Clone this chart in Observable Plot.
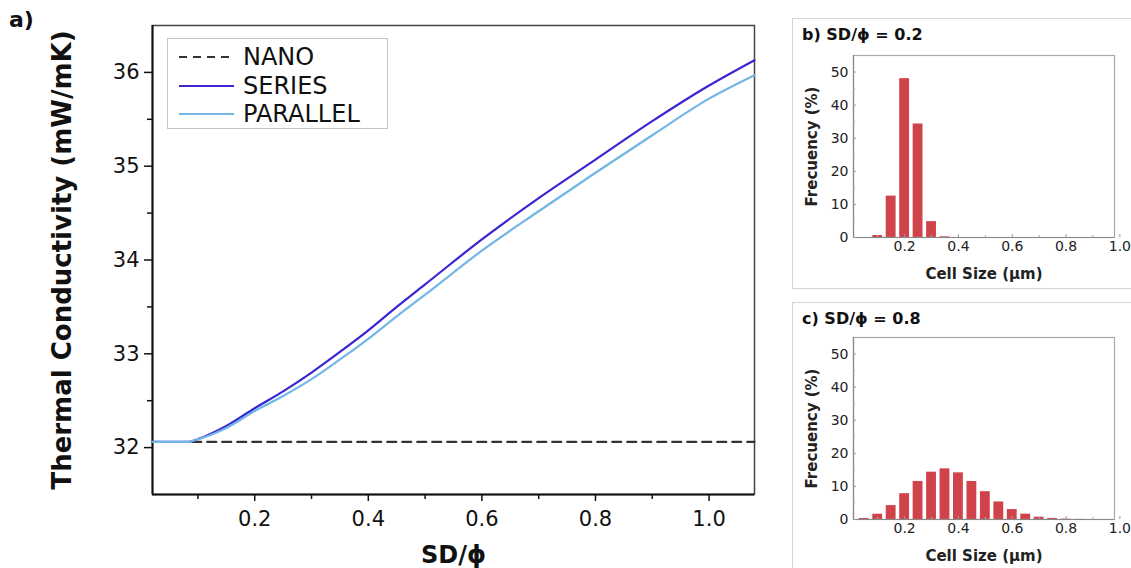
<!DOCTYPE html>
<html><head><meta charset="utf-8">
<script src="https://cdn.jsdelivr.net/npm/d3@7"></script>
<script src="https://cdn.jsdelivr.net/npm/@observablehq/plot@0.6"></script>
<style>
body{margin:0;background:#fff;font-family:"DejaVu Sans",Arial,sans-serif;color:#111;}
#root{position:relative;width:1131px;height:568px;overflow:hidden;background:#fff;}
.abs{position:absolute;}
.box{position:absolute;border:1.5px solid #d4d4d4;box-sizing:border-box;}
.ttl{position:absolute;font-weight:bold;font-size:16px;white-space:nowrap;}
.leg{position:absolute;left:167px;top:38px;width:221px;height:91px;border:1px solid #c4c4c4;box-sizing:border-box;background:#fff;}
.legrow{position:absolute;left:11px;height:28px;display:flex;align-items:center;font-size:24px;white-space:nowrap;}
.legrow svg{margin-right:9px;}
</style></head><body><div id="root"></div>
<script>
// ---- Data ----
const sdRatio   = [0.02, 0.05, 0.08, 0.09, 0.10, 0.12, 0.15, 0.20, 0.25, 0.30, 0.35, 0.40, 0.45, 0.50, 0.60, 0.70, 0.80, 0.90, 1.00, 1.08];
const seriesK   = [32.06,32.06,32.06,32.07,32.09,32.14,32.23,32.42,32.60,32.80,33.02,33.25,33.50,33.74,34.22,34.66,35.07,35.48,35.86,36.13];
const parallelK = [32.06,32.06,32.06,32.07,32.09,32.13,32.21,32.39,32.55,32.73,32.94,33.16,33.40,33.63,34.10,34.52,34.93,35.33,35.72,35.97];
const nanoK = 32.06;
const legendLabels = ["NANO", "SERIES", "PARALLEL"];
const mainXTicks = [0.2, 0.4, 0.6, 0.8, 1.0];
const mainXMinor = [0.1, 0.3, 0.5, 0.7, 0.9];
const mainYTicks = [32, 33, 34, 35, 36];
const mainYMinor = [32.5, 33.5, 34.5, 35.5];
const mainXDomain = [0.02, 1.08];
const mainYDomain = [31.5, 36.5];

const binWidth = 0.05;
const cellSizeB = [0.10, 0.15, 0.20, 0.25, 0.30, 0.35];
const freqB     = [0.6, 12.5, 48.0, 34.3, 4.8, 0.2];
const cellSizeC = [0.05, 0.10, 0.15, 0.20, 0.25, 0.30, 0.35, 0.40, 0.45, 0.50, 0.55, 0.60, 0.65, 0.70, 0.75, 0.80, 0.85];
const freqC     = [0.3, 1.6, 4.2, 7.8, 11.5, 14.3, 15.3, 14.1, 11.5, 8.4, 5.3, 3.0, 1.6, 0.7, 0.3, 0.1, 0.05];
const histXTicks = [0.2, 0.4, 0.6, 0.8, 1.0];
const histXMinor = [0.1, 0.3, 0.5, 0.7, 0.9];
const histYTicks = [0, 10, 20, 30, 40, 50];
const histYMinor = [5, 15, 25, 35, 45];
const histXDomain = [0.01, 0.98];
const histYDomain = [0, 55];

// ---- Styles ----
const FONT = "DejaVu Sans, Arial, sans-serif";
const colSeries = "#3a25d2", colParallel = "#72b6e6", colNano = "#333333", colBar = "#d0434b";

const root = document.getElementById("root");

// ---- Main chart ----
const main = Plot.plot({
  width: 780, height: 568,
  marginLeft: 152, marginRight: 26, marginTop: 25, marginBottom: 74,
  style: {background: "transparent", overflow: "visible", fontFamily: FONT, color: "#111"},
  x: {domain: mainXDomain},
  y: {domain: mainYDomain},
  marks: [
    Plot.frame({stroke: "#444", strokeWidth: 1.5}),
    Plot.ruleX([mainXDomain[0]], {stroke: "#111", strokeWidth: 2}),
    Plot.ruleY([mainYDomain[0]], {stroke: "#111", strokeWidth: 2}),
    Plot.line([sdRatio[3], sdRatio[sdRatio.length - 1]], {x: d => d, y: () => nanoK, stroke: colNano, strokeWidth: 2.2, strokeDasharray: "9,6"}),
    Plot.line(sdRatio, {x: d => d, y: (d, i) => seriesK[i], stroke: colSeries, strokeWidth: 2.2, curve: "monotone-x"}),
    Plot.line(sdRatio, {x: d => d, y: (d, i) => parallelK[i], stroke: colParallel, strokeWidth: 2.2, curve: "monotone-x"}),
    Plot.axisY(mainYTicks, {tickSize: 8, tickPadding: 5, fontSize: 21, tickFormat: d => String(d), label: null, stroke: "#111", strokeWidth: 1.5}),
    Plot.axisY(mainYMinor, {tickSize: 5, tickFormat: () => "", label: null, stroke: "#111", strokeWidth: 1.5}),
    Plot.axisX(mainXTicks, {tickSize: 7, tickPadding: 10, fontSize: 21, tickFormat: d => d.toFixed(1), label: null, stroke: "#111", strokeWidth: 1.5}),
    Plot.axisX(mainXMinor, {tickSize: 5, tickFormat: () => "", label: null, stroke: "#111", strokeWidth: 1.5}),
    Plot.text(["Thermal Conductivity (mW/mK)"], {frameAnchor: "left", rotate: -90, dx: -90, fontSize: 26, fontWeight: "bold", textAnchor: "middle", lineAnchor: "middle", fill: "#111"}),
    Plot.text(["SD/ϕ"], {frameAnchor: "bottom", dy: 68, fontSize: 24, fontWeight: "bold", textAnchor: "middle", lineAnchor: "bottom", fill: "#111"})
  ]
});
main.classList.add("abs");
main.style.left = "0px"; main.style.top = "0px";
root.appendChild(main);

// panel letter a)
const la = document.createElement("div");
la.className = "ttl"; la.style.left = "9px"; la.style.top = "7px"; la.style.fontSize = "22px";
la.textContent = "a)";
root.appendChild(la);

// legend
const leg = document.createElement("div");
leg.className = "leg";
const legStyles = [
  {stroke: colNano, dash: "8,6"},
  {stroke: colSeries, dash: null},
  {stroke: colParallel, dash: null}
];
legendLabels.forEach((lab, i) => {
  const row = document.createElement("div");
  row.className = "legrow";
  row.style.top = (4 + i * 28.5) + "px";
  const s = legStyles[i];
  row.innerHTML = `<svg width="55" height="6"><line x1="0" y1="3" x2="55" y2="3" stroke="${s.stroke}" stroke-width="2.2" ${s.dash ? `stroke-dasharray="${s.dash}"` : ""}/></svg><span>${lab}</span>`;
  leg.appendChild(row);
});
root.appendChild(leg);

// ---- Histograms ----
function hist(cells, freq, mTop, h) {
  return Plot.plot({
    width: 339, height: h,
    marginLeft: 61, marginRight: 17, marginTop: mTop, marginBottom: h - mTop - 182,
    style: {background: "transparent", overflow: "visible", fontFamily: FONT, color: "#222"},
    x: {domain: histXDomain},
    y: {domain: histYDomain},
    marks: [
      Plot.rect(cells, {x1: d => d - binWidth / 2, x2: d => d + binWidth / 2, y1: 0, y2: (d, i) => freq[i], fill: colBar, insetLeft: 1.8, insetRight: 1.8}),
      Plot.frame({stroke: "#a8a8a8", strokeWidth: 1.2}),
      Plot.ruleY([histYDomain[0]], {stroke: "#888", strokeWidth: 1.2}),
      Plot.ruleX([histXDomain[0]], {stroke: "#888", strokeWidth: 1.2}),
      Plot.axisY(histYTicks, {tickSize: -3, tickPadding: 8, fontSize: 14, tickFormat: d => String(d), label: null, stroke: "#999"}),
      Plot.axisY(histYMinor, {tickSize: -2, tickFormat: () => "", label: null, stroke: "#aaa"}),
      Plot.axisX(histXTicks, {tickSize: -3, tickPadding: 7, fontSize: 14, tickFormat: d => d.toFixed(1), label: null, stroke: "#999"}),
      Plot.axisX(histXMinor, {tickSize: -2, tickFormat: () => "", label: null, stroke: "#aaa"}),
      Plot.text(["Frecuency (%)"], {frameAnchor: "left", rotate: -90, dx: -41, fontSize: 15, fontWeight: "bold", textAnchor: "middle", lineAnchor: "middle", fill: "#222"}),
      Plot.text(["Cell Size (µm)"], {frameAnchor: "bottom", dy: 37, fontSize: 15, fontWeight: "bold", textAnchor: "middle", lineAnchor: "middle", fill: "#222"})
    ]
  });
}

function panel(top, title, cells, freq, mTop, h) {
  const box = document.createElement("div");
  box.className = "box";
  box.style.left = "792px"; box.style.top = top + "px";
  box.style.width = "360px"; box.style.height = (h + 2) + "px";
  root.appendChild(box);
  const t = document.createElement("div");
  t.className = "ttl";
  t.style.left = "802px"; t.style.top = (top + 7) + "px";
  t.textContent = title;
  root.appendChild(t);
  const svg = hist(cells, freq, mTop, h);
  svg.classList.add("abs");
  svg.style.left = "792px"; svg.style.top = top + "px";
  root.appendChild(svg);
}
panel(18, "b) SD/ϕ = 0.2", cellSizeB, freqB, 37, 269);
panel(302, "c) SD/ϕ = 0.8", cellSizeC, freqC, 35, 266);
</script></body></html>
